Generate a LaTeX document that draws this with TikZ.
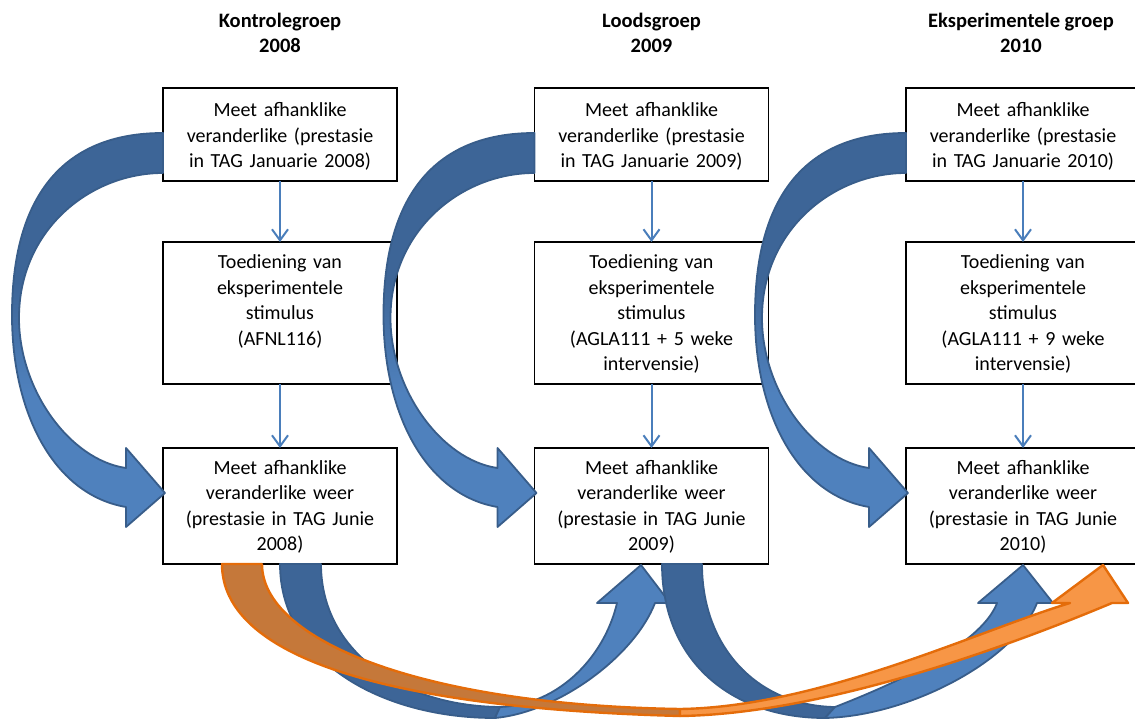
\documentclass[tikz,border=0pt]{standalone}
\usepackage{fontspec}
\setmainfont{Carlito}
\usepackage{tikz}
\usetikzlibrary{arrows.meta}

\definecolor{bandDark}{HTML}{3D6597}
\definecolor{bandLight}{HTML}{4F81BD}
\definecolor{bandLine}{HTML}{385D8A}
\definecolor{flowBlue}{HTML}{4A7EBB}
\definecolor{orangeDark}{HTML}{C5783A}
\definecolor{orangeLight}{HTML}{F79646}
\definecolor{orangeLine}{HTML}{E46C0A}

\pgfdeclareverticalshading{bandshade}{100bp}{%
  color(0bp)=(bandLight);
  color(42bp)=(bandLight);
  color(56bp)=(bandDark);
  color(100bp)=(bandDark)}

\tikzset{
  title/.style={align=center, inner sep=0pt, font=\fontsize{20.5}{25}\selectfont\bfseries},
  box/.style={draw, line width=1.6pt, outer sep=0pt, inner xsep=4pt, inner ysep=0pt,
    text width=226pt, align=center, anchor=north, font=\fontsize{20}{25.5}\selectfont},
  rowtop/.style={box, text height=29pt, text depth=64pt},
  rowmid/.style={box, text height=27pt, text depth=115pt},
  rowbot/.style={box, text height=26pt, text depth=90pt},
  flow/.style={draw=flowBlue, line width=2pt, -{Straight Barb[length=11pt,width=16pt]}},
  band/.style={draw=bandLine, line width=1.8pt, line join=round, shading=bandshade},
  bandfront/.style={fill=bandLight, draw=bandLine, line width=1.8pt, line join=round},
  bandback/.style={bandfront, fill=bandDark},
  orangefront/.style={fill=orangeLight, draw=orangeLine, line width=2.4pt, line join=round},
  orangeback/.style={orangefront, fill=orangeDark}
}

\begin{document}
\begin{tikzpicture}[x=1pt, y=-1pt]
\useasboundingbox (0,0) rectangle (1135,719);

\node[title] (h1) at (280,32.5) {Kontrolegroep\\2008};
\node[title] (h2) at (651.5,32.5) {Loodsgroep\\2009};
\node[title] (h3) at (1021,32.5) {Eksperimentele groep\\2010};

\node[rowtop] (t1) at (280,88) {Meet afhanklike\\veranderlike (prestasie\\in TAG Januarie 2008)};
\node[rowtop] (t2) at (651.5,88) {Meet afhanklike\\veranderlike (prestasie\\in TAG Januarie 2009)};
\node[rowtop] (t3) at (1023,88) {Meet afhanklike\\veranderlike (prestasie\\in TAG Januarie 2010)};

\node[rowmid] (m1) at (280,242) {Toediening van\\eksperimentele\\stimulus\\(AFNL116)};
\node[rowmid] (m2) at (651.5,242) {Toediening van\\eksperimentele\\stimulus\\(AGLA111 + 5 weke\\intervensie)};
\node[rowmid] (m3) at (1023,242) {Toediening van\\eksperimentele\\stimulus\\(AGLA111 + 9 weke\\intervensie)};

\node[rowbot] (b1) at (280,448) {Meet afhanklike\\veranderlike weer\\(prestasie in TAG Junie\\2008)};
\node[rowbot] (b2) at (651.5,448) {Meet afhanklike\\veranderlike weer\\(prestasie in TAG Junie\\2009)};
\node[rowbot] (b3) at (1023,448) {Meet afhanklike\\veranderlike weer\\(prestasie in TAG Junie\\2010)};

\draw
	(t1) edge[flow] (m1)
	(m1) edge[flow] (b1)
	(t2) edge[flow] (m2)
	(m2) edge[flow] (b2)
	(t3) edge[flow] (m3)
	(m3) edge[flow] (b3)
;

\foreach \c in {1,2,3}{
\begin{scope}[shift={(t\c.west)}]
\shadedraw[band] (0,-1.5) .. controls (-103,-1.5) and (-151,65.5) .. (-151,180.5)
	.. controls (-151,280.5) and (-108,360.5) .. (-37,372.5)
	-- (-37,392.5) -- (2,358.5) -- (-37,313.5) -- (-37,333.5)
	.. controls (-93,325.5) and (-144,255.5) .. (-144,183.5)
	.. controls (-144,95.5) and (-73,38.5) .. (0,38.5) -- cycle;
\end{scope}
}

\filldraw[bandback] (280,564) .. controls (280,660) and (380,718) .. (495,718)
	-- (500,707) .. controls (400,706) and (321,650) .. (321,564) -- cycle;
\filldraw[bandfront] (495,718) .. controls (560,712) and (635,655) .. (655,603)
	-- (670,603) -- (641,565) -- (597,603) -- (617,603)
	.. controls (605,655) and (560,705) .. (500,707) -- cycle;

\filldraw[bandback] (662,564) .. controls (662,660) and (730,718) .. (825,718)
	-- (835,707) .. controls (760,706) and (702,650) .. (702,564) -- cycle;
\filldraw[bandfront] (825,718) .. controls (910,716) and (1015,660) .. (1037,603)
	-- (1053,603) -- (1023,565) -- (978,603) -- (997,603)
	.. controls (985,635) and (930,670) .. (835,707) -- cycle;

\filldraw[orangeback] (222,564) .. controls (222,655) and (380,708) .. (680,716)
	-- (680,709) .. controls (420,705) and (262,640) .. (262,564) -- cycle;
\filldraw[orangefront] (680,716) .. controls (820,714) and (1000,650) .. (1112,603)
	-- (1128,603) -- (1103,565) -- (1052,603) -- (1070,603)
	.. controls (980,630) and (820,707) .. (680,709) -- cycle;
\end{tikzpicture}
\end{document}
